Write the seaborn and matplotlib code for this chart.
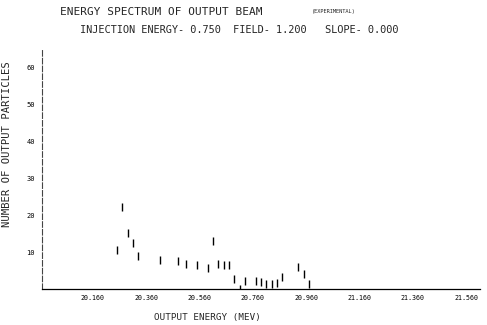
import matplotlib
matplotlib.use("Agg")
import matplotlib.pyplot as plt
from matplotlib.path import Path
import seaborn as sns
import pandas as pd

# ---- data ----
energy = [20.25, 20.27, 20.29, 20.31, 20.33, 20.41, 20.48, 20.51, 20.55, 20.59,
          20.61, 20.63, 20.65, 20.67, 20.69, 20.71, 20.73, 20.77, 20.79, 20.81,
          20.83, 20.85, 20.87, 20.93, 20.95, 20.97]
counts = [11.6, 23.2, 16.2, 13.5, 10.0, 8.9, 8.6, 7.8, 7.6, 6.8,
          14.0, 7.8, 7.6, 7.6, 3.8, 1.0, 3.2, 3.2, 3.0, 2.4,
          2.4, 2.7, 4.3, 7.0, 5.1, 2.4]
x_ticks = [20.16, 20.36, 20.56, 20.76, 20.96, 21.16, 21.36, 21.56]
x_tick_labels = ["20.160", "20.360", "20.560", "20.760", "20.960", "21.160", "21.360", "21.560"]
y_ticks = [10, 20, 30, 40, 50, 60]
y_tick_labels = ["10", "20", "30", "40", "50", "60"]

df = pd.DataFrame({"energy": energy, "count": counts})

sns.set_theme(style="white")
plt.rcParams["font.family"] = ["DejaVu Sans Mono"]

fig = plt.figure(figsize=(4.87, 3.25), dpi=100)
ax = fig.add_axes([42 / 487, 1 - 289 / 325, 438 / 487, 239 / 325])

tick_marker = Path([(0, 0), (0, -1)])
sns.scatterplot(data=df, x="energy", y="count", marker=tick_marker, s=130,
                color="black", edgecolor="black", linewidth=1.0, ax=ax, legend=False)

ax.set_xlim(19.969, 21.612)
ax.set_ylim(0, 64.6)
ax.set_xticks(x_ticks)
ax.set_xticklabels(x_tick_labels, fontsize=4.8)
ax.set_yticks(y_ticks)
ax.set_yticklabels(y_tick_labels, fontsize=5)
ax.tick_params(axis="x", direction="out", length=3, width=0.8, pad=1.5, colors="black")
ax.tick_params(axis="y", direction="in", length=5, width=0.8, pad=5, colors="black")

for side in ("top", "right"):
    ax.spines[side].set_visible(False)
ax.spines["left"].set_color("#444444")
ax.spines["left"].set_linewidth(0.8)
ax.spines["left"].set_linestyle((0, (5, 2)))
ax.spines["bottom"].set_color("black")
ax.spines["bottom"].set_linewidth(0.9)

ax.set_xlabel("OUTPUT ENERGY (MEV)", fontsize=6.7)
ax.xaxis.set_label_coords(0.377, -0.100)
ax.set_ylabel("NUMBER OF OUTPUT PARTICLES", fontsize=7.6)
ax.yaxis.set_label_coords(-0.068, 0.607)

title_kw = dict(ha="left", va="center")
fig.text(60 / 487, 1 - 12 / 325, "ENERGY SPECTRUM OF OUTPUT BEAM", fontsize=8, **title_kw)
fig.text(312 / 487, 1 - 11 / 325, "(EXPERIMENTAL)", fontsize=3.8, **title_kw)
fig.text(80 / 487, 1 - 30 / 325,
         "INJECTION ENERGY- 0.750  FIELD- 1.200   SLOPE- 0.000",
         fontsize=7.4, **title_kw)

fig.savefig("out.png", dpi=100, facecolor="white")
